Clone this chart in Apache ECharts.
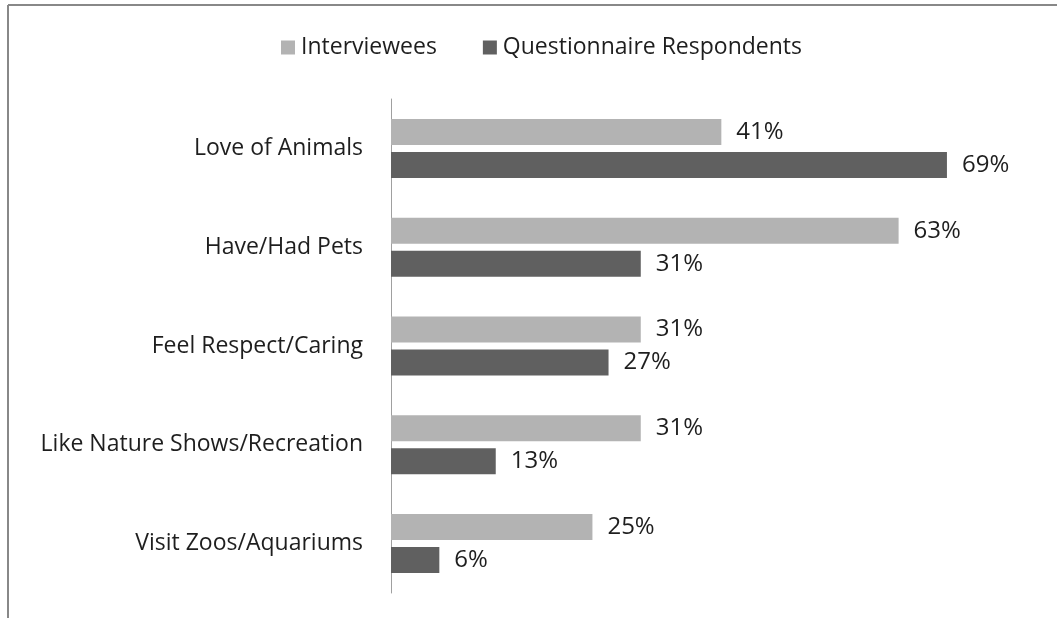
<!DOCTYPE html>
<html>
<head>
<meta charset="utf-8">
<script src="https://cdn.jsdelivr.net/npm/echarts@6/dist/echarts.min.js"></script>
<style>
html,body{margin:0;padding:0;background:#fff;}
#chart{width:1057px;height:618px;}
</style>
</head>
<body>
<div id="chart"></div>
<script>
const categories = ["Love of Animals", "Have/Had Pets", "Feel Respect/Caring", "Like Nature Shows/Recreation", "Visit Zoos/Aquariums"];
const interviewees = [41, 63, 31, 31, 25];
const respondents = [69, 31, 27, 13, 6];
const seriesNames = ["Interviewees", "Questionnaire Respondents"];

const FONT = '"Open Sans", Lato, sans-serif';
const chart = echarts.init(document.getElementById('chart'));
const labelOpt = {
  show: true, position: 'right', distance: 15,
  formatter: p => p.value + '%',
  color: '#1e1e1e', fontSize: 24, fontFamily: FONT
};
chart.setOption({
  animation: false,
  legend: {
    top: 31, left: 276,
    itemWidth: 14, itemHeight: 14, itemGap: 46,
    icon: 'rect',
    textStyle: { color: '#1e1e1e', fontSize: 23, fontFamily: FONT, padding: [0, 0, 0, 1] },
    data: seriesNames
  },
  grid: { left: 391, width: 564, top: 99, height: 494, containLabel: false },
  xAxis: {
    type: 'value', min: 0, max: 70, show: false
  },
  yAxis: {
    type: 'category', data: categories, inverse: true,
    axisLine: { show: true, lineStyle: { color: '#a0a0a0', width: 1 } },
    axisTick: { show: false },
    axisLabel: { color: '#1e1e1e', fontSize: 23, fontFamily: FONT, margin: 28 }
  },
  series: [
    { name: seriesNames[0], type: 'bar', data: interviewees, barWidth: 26, barGap: '27%',
      itemStyle: { color: '#b3b3b3' }, label: labelOpt },
    { name: seriesNames[1], type: 'bar', data: respondents, barWidth: 26, barGap: '27%',
      itemStyle: { color: '#606060' }, label: labelOpt }
  ],
  graphic: [
    { type: 'line', shape: { x1: 8, y1: 5, x2: 1057, y2: 5 }, style: { stroke: '#888', lineWidth: 2 } },
    { type: 'line', shape: { x1: 8, y1: 5, x2: 8, y2: 618 }, style: { stroke: '#888', lineWidth: 2 } }
  ]
});
</script>
</body>
</html>
